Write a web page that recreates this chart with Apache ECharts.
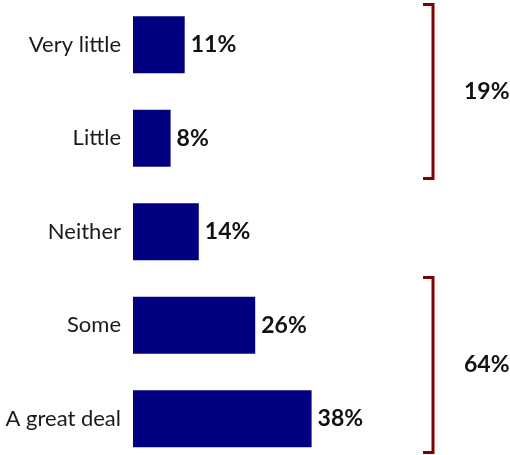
<!DOCTYPE html>
<html>
<head>
<meta charset="utf-8">
<script src="https://cdn.jsdelivr.net/npm/echarts@6/dist/echarts.min.js"></script>
<style>
  html, body { margin: 0; padding: 0; background: #ffffff; }
  #chart { width: 510px; height: 455px; }
</style>
</head>
<body>
<div id="chart"></div>
<script>
// Response categories, top to bottom
const categories = ['Very little', 'Little', 'Neither', 'Some', 'A great deal'];
// Share of respondents (%)
const values = [11, 8, 14, 26, 38];
// Grouped totals: first and last category index of each bracket
const groups = [[0, 1], [3, 4]];

const groupData = groups.map(([a, b]) => {
  let sum = 0;
  for (let i = a; i <= b; i++) sum += values[i];
  return [a, b, sum];
});

// Bracket overhang above/below the grouped bars, as a fraction of a category band
const BRACKET_PAD = [[0.43, 0.43], [0.51, 0.36]];

const FONT = 'Lato';
const BAR_COLOR = '#000080';
const BRACKET_COLOR = '#7f0000';

const chart = echarts.init(document.getElementById('chart'), null, { renderer: 'canvas' });

chart.setOption({
  animation: false,
  backgroundColor: '#ffffff',
  grid: {
    left: 133, top: -2, width: 282, height: 467.5,
    containLabel: false,
    outerBoundsMode: 'none'
  },
  xAxis: {
    type: 'value', min: 0, max: 60,
    show: false
  },
  yAxis: {
    type: 'category',
    data: categories,
    inverse: true,
    axisLine: { show: false },
    axisTick: { show: false },
    axisLabel: {
      margin: 12,
      color: '#1a1a1a',
      fontFamily: FONT,
      fontSize: 22
    }
  },
  series: [
    {
      type: 'bar',
      data: values,
      barWidth: 57,
      itemStyle: { color: BAR_COLOR },
      label: {
        show: true,
        position: 'right',
        distance: 6,
        formatter: '{c}%',
        color: '#111111',
        fontFamily: FONT,
        fontWeight: 'bold',
        fontSize: 23
      }
    },
    {
      type: 'custom',
      data: groupData,
      encode: { x: -1, y: -1 },
      silent: true,
      renderItem: function (params, api) {
        const first = api.value(0);
        const last = api.value(1);
        const total = api.value(2);
        const pad = BRACKET_PAD[params.dataIndex];
        const band = api.size([0, 1])[1];
        const cs = params.coordSys;
        const x = cs.x + cs.width + 18;
        const top = api.coord([0, first])[1] - band * pad[0];
        const bottom = api.coord([0, last])[1] + band * pad[1];
        const mid = (top + bottom) / 2;
        return {
          type: 'group',
          children: [
            {
              type: 'polyline',
              shape: { points: [[x - 10, top], [x, top], [x, bottom], [x - 10, bottom]] },
              style: { stroke: BRACKET_COLOR, lineWidth: 3, fill: null, lineJoin: 'miter' }
            },
            {
              type: 'text',
              x: x + 31,
              y: mid,
              style: {
                text: total + '%',
                fill: '#111111',
                font: 'bold 23px ' + FONT,
                verticalAlign: 'middle',
                align: 'left'
              }
            }
          ]
        };
      }
    }
  ]
});
</script>
</body>
</html>
